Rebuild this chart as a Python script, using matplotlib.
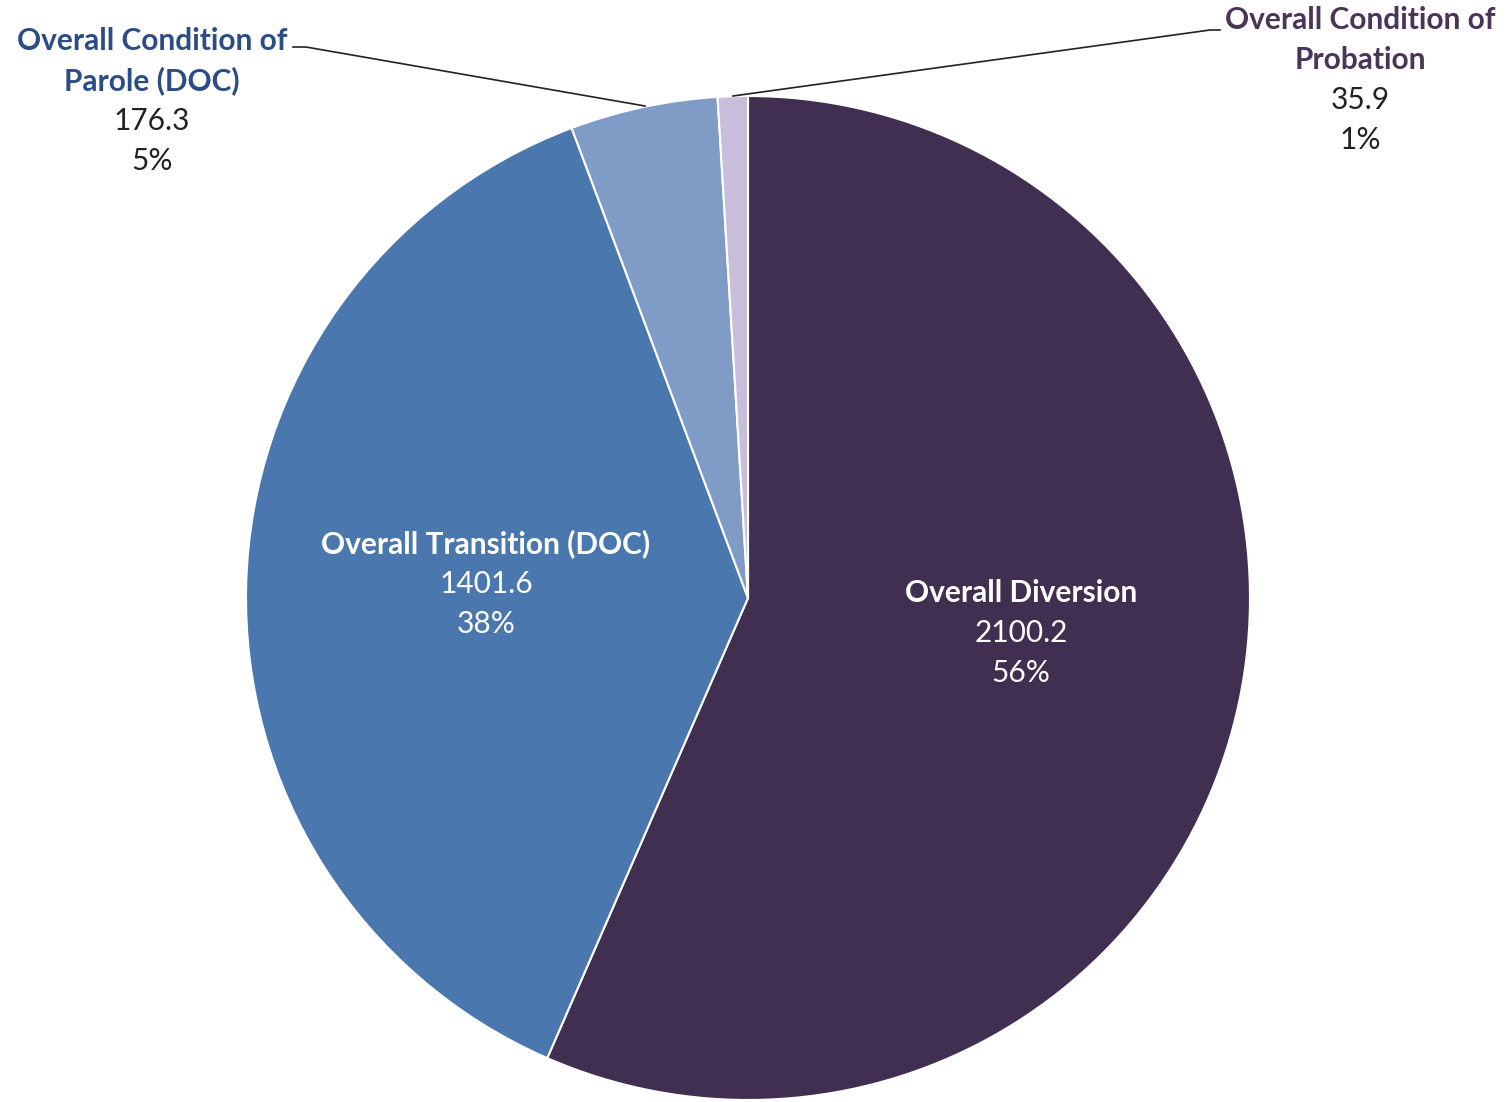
import matplotlib
matplotlib.use("Agg")
from matplotlib import pyplot as plt

plt.rcParams['font.family'] = ['Lato', 'DejaVu Sans']

names = ["Overall Diversion", "Overall Transition (DOC)",
         "Overall Condition of\nParole (DOC)", "Overall Condition of\nProbation"]
values = [2100.2, 1401.6, 176.3, 35.9]
pcts = ["56%", "38%", "5%", "1%"]
colors = ["#412F51", "#4A78AE", "#7F9CC7", "#C9BEDA"]

W, H = 1511, 1102
fig = plt.figure(figsize=(W / 100, H / 100), dpi=100)
ax = fig.add_axes([0, 0, 1, 1])

cx, cy, r = 748, H - 598, 502
ax.pie(values, colors=colors, startangle=90, counterclock=False,
       center=(cx, cy), radius=r, frame=True,
       wedgeprops=dict(edgecolor="white", linewidth=1.5))
ax.set_xlim(0, W)
ax.set_ylim(0, H)
ax.axis("off")

FS = 21.5


def label(x, y_top, name, value, pct, name_color, val_color):
    y = y_top
    for ln in name.split("\n"):
        ax.text(x, H - y, ln, ha="center", va="center", fontsize=FS,
                fontweight="bold", color=name_color)
        y += 40
    ax.text(x, H - y, f"{value}", ha="center", va="center", fontsize=FS,
            color=val_color)
    ax.text(x, H - y - 40, pct, ha="center", va="center", fontsize=FS,
            color=val_color)


label(1021, 593, names[0], values[0], pcts[0], "white", "white")
label(486, 544, names[1], values[1], pcts[1], "white", "white")
label(152, 41, names[2], values[2], pcts[2], "#2B4C85", "#222222")
label(1360, 20, names[3], values[3], pcts[3], "#4A3458", "#222222")

# leader lines
ax.plot([293, 306, 645], [H - 47, H - 47, H - 106], color="#222222", lw=1.2)
ax.plot([733, 1210, 1220], [H - 96, H - 30, H - 30], color="#222222", lw=1.2)

fig.savefig("out.png", dpi=100)
